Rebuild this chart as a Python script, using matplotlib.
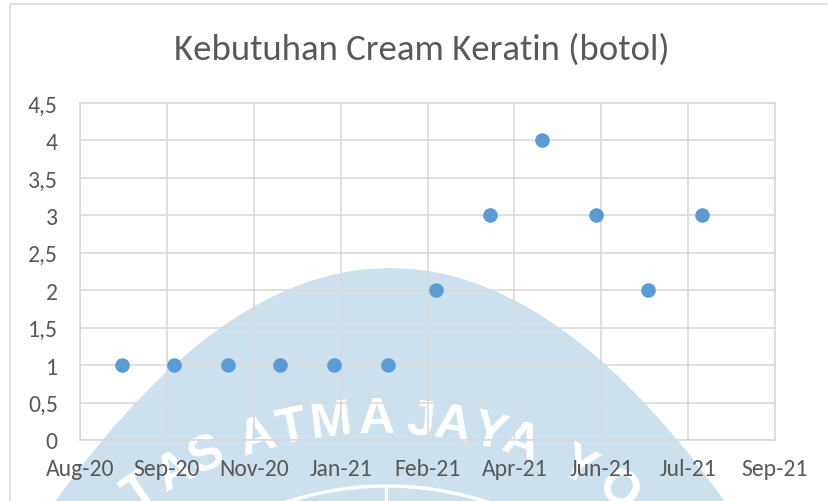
import numpy as np
import matplotlib
matplotlib.use('Agg')
import matplotlib.pyplot as plt
import matplotlib.dates as mdates
from matplotlib.patches import Polygon
import datetime as dt

plt.rcParams['font.family'] = ['Carlito', 'Lato', 'DejaVu Sans']

# data (one point per month, end of month)
bulan = ['2020-08-31', '2020-09-30', '2020-10-31', '2020-11-30', '2020-12-31',
         '2021-01-31', '2021-02-28', '2021-03-31', '2021-04-30', '2021-05-31',
         '2021-06-30', '2021-07-31']
botol = [1, 1, 1, 1, 1, 1, 2, 3, 4, 3, 2, 3]
judul = 'Kebutuhan Cream Keratin (botol)'

# excel-style date axis: starts 7 Aug 2020, major unit 50 days
axis_start = dt.date(2020, 8, 7)
tick_step = 50
n_ticks = 9
y_ticks = np.arange(0, 4.51, 0.5)

# watermark letters (angles along arc, degrees)
wm_letters = ['T', 'A', 'S', 'A', 'T', 'M', 'A', 'J', 'A', 'Y', 'A', 'Y', 'O']
wm_angles = [-33.8, -28.4, -23.8, -16.6, -11.8, -6.6, -0.4, 5.4, 9.8, 14.6, 19.2, 27.2, 33.6]

W, H = 829, 502
fig = plt.figure(figsize=(W / 100, H / 100), dpi=100)
fig.patch.set_facecolor('white')

# --- watermark layer (behind the chart), pixel coordinates
wm = fig.add_axes([0, 0, 1, 1], zorder=0)
wm.set_xlim(0, W)
wm.set_ylim(H, 0)
wm.axis('off')
d = np.linspace(0, 260, 200)
half = np.sqrt(480 * d)
xs = np.concatenate([390 - half[::-1], 390 + half])
ys = np.concatenate([269 + d[::-1], 269 + d])
wm.add_patch(Polygon(np.column_stack([xs, ys]), closed=True,
                     facecolor='#CCE0ED', edgecolor='none'))
cx, cy, R = 380, 850, 430
for ch, a in zip(wm_letters, wm_angles):
    t = np.radians(a)
    wm.text(cx + R * np.sin(t), cy - R * np.cos(t), ch, rotation=-a,
            rotation_mode='anchor', ha='center', va='center',
            fontsize=36, fontweight='bold', color='white',
            family=['Liberation Sans', 'DejaVu Sans'])
th = np.linspace(-0.45, 0.45, 100)
wm.plot(387 + 321 * np.sin(th), 808 - 321 * np.cos(th), color='white', lw=2.5)
wm.plot([386, 386], [489, 505], color='white', lw=2)
# chart frame (left & top edge visible)
wm.plot([10, 10, W + 5], [H + 5, 5, 5], color='#D9D9D9', lw=1.2)

# --- main chart
ax = fig.add_axes([80 / W, 1 - 441 / H, 695 / W, 337 / H], zorder=1)
ax.patch.set_alpha(0)
x = [dt.date.fromisoformat(s) for s in bulan]
ax.scatter(x, botol, s=110, color='#5B9BD5', zorder=3, linewidths=0)

xt = [axis_start + dt.timedelta(days=tick_step * i) for i in range(n_ticks)]
ax.set_xlim(xt[0], xt[-1])
ax.set_xticks(xt)
ax.xaxis.set_major_formatter(mdates.DateFormatter('%b-%y'))
ax.set_ylim(0, 4.5)
ax.set_yticks(y_ticks)
ax.set_yticklabels([f'{v:g}'.replace('.', ',') for v in y_ticks])

ax.grid(True, color='#D9D9D9', lw=1.2)
ax.set_axisbelow(True)
for s in ax.spines.values():
    s.set_color('#D9D9D9')
    s.set_linewidth(1.2)
ax.tick_params(length=0, labelsize=17, colors='#595959')
ax.tick_params(axis='y', pad=16)
ax.tick_params(axis='x', pad=13)

fig.text(422 / W, 1 - 50 / H, judul, ha='center', va='center',
         fontsize=26.5, color='#595959')

fig.savefig('out.png', dpi=100)
